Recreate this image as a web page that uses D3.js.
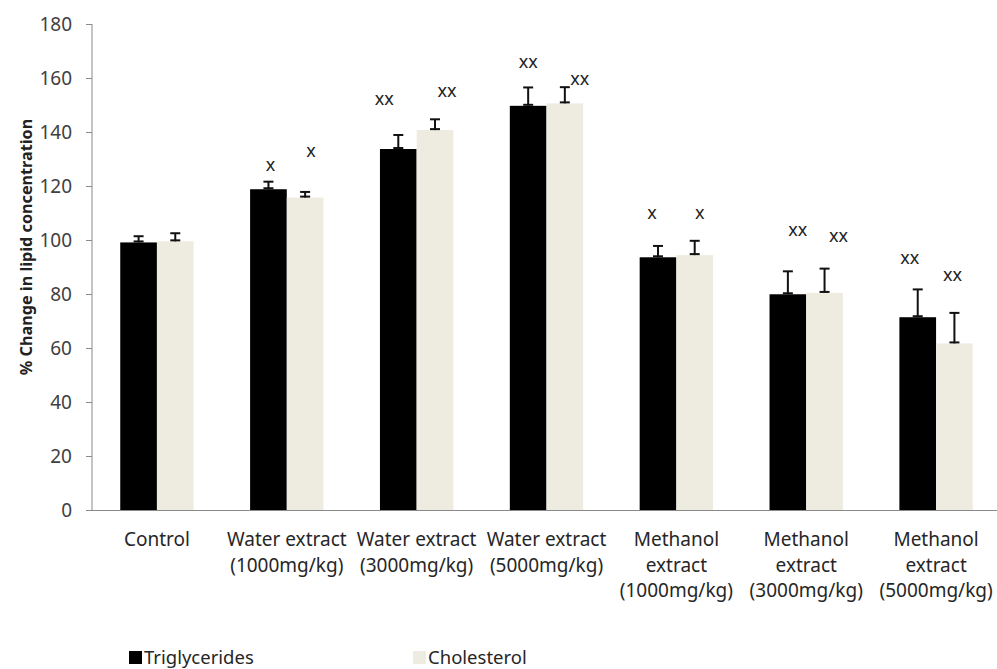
<!DOCTYPE html>
<html>
<head>
<meta charset="utf-8">
<script src="https://cdn.jsdelivr.net/npm/d3@7"></script>
<style>
  body { margin: 0; background: #fff; }
  #chart { width: 997px; height: 669px; }
  text { font-family: "Noto Sans", "Open Sans", sans-serif; }
</style>
</head>
<body>
<div id="chart"></div>
<script>
let categories = [
    "Control",
    "Water extract\n(1000mg/kg)",
    "Water extract\n(3000mg/kg)",
    "Water extract\n(5000mg/kg)",
    "Methanol\nextract\n(1000mg/kg)",
    "Methanol\nextract\n(3000mg/kg)",
    "Methanol\nextract\n(5000mg/kg)"
];
let seriesNames = ["Triglycerides", "Cholesterol"];
let seriesColors = ["#000000", "#eeebe0"];

let triglycerides = [99.1, 118.8, 133.7, 149.7, 93.6, 79.9, 71.4];
let cholesterol   = [99.5, 115.7, 140.7, 150.6, 94.4, 80.4, 61.7];
let trigErr = [2.3, 2.8, 5.2, 6.8, 4.2, 8.5, 10.3];
let cholErr = [3.0, 2.1, 4.0, 6.0, 5.3, 9.0, 11.3];

// significance marks: [category index, series index, text, value level, shift off bar centre in px]
let marks = [
    [1, 0, "x", 127.4, 2],   [1, 1, "x", 132.6, 6],
    [2, 0, "xx", 151.9, -14], [2, 1, "xx", 154.9, 12],
    [3, 0, "xx", 165.4, 0],   [3, 1, "xx", 159.3, 15],
    [4, 0, "x", 109.6, -6],   [4, 1, "x", 109.6, 5],
    [5, 0, "xx", 103.4, 10],  [5, 1, "xx", 101.2, 14],
    [6, 0, "xx", 92.9, -8],   [6, 1, "xx", 86.7, -2]
];
let yTicks = [0, 20, 40, 60, 80, 100, 120, 140, 160, 180];

let drawGraph = function() {
    let w = 997, h = 669;
    let left = 92, right = 1001, top = 24, bottom = 510;

    let svg = d3.select("#chart")
      .append("svg")
        .attr("width", w)
        .attr("height", h);

    let y = d3.scaleLinear().domain([0, 180]).range([bottom, top]);
    let x = d3.scaleBand().domain(d3.range(categories.length)).range([left, right]).padding(0);
    let groupW = x.bandwidth() * 0.565;
    let xs = d3.scaleBand().domain([0, 1]).range([0, groupW]);

    // y axis
    let yAxis = svg.append("g")
        .attr("transform", "translate(" + left + ",0)")
        .call(d3.axisLeft(y).tickValues(yTicks).tickSize(6).tickPadding(14));
    yAxis.select(".domain").attr("stroke", "#8a8a8a").attr("d", "M0," + top + "V" + bottom);
    yAxis.selectAll(".tick line").attr("stroke", "#8a8a8a");
    yAxis.selectAll(".tick text")
        .attr("font-size", 19)
        .attr("font-family", "'Noto Sans', sans-serif")
        .attr("fill", "#404040");

    svg.append("text")
        .attr("transform", "translate(32,247) rotate(-90)")
        .attr("text-anchor", "middle")
        .attr("font-size", 16.2)
        .attr("font-weight", "bold")
        .attr("fill", "#222")
        .text("% Change in lipid concentration");

    let series = [triglycerides, cholesterol];
    let errs = [trigErr, cholErr];

    let data = [];
    categories.forEach(function(c, i) {
        series.forEach(function(s, j) {
            data.push({ cat: i, ser: j, value: s[i], err: errs[j][i] });
        });
    });
    let barX = function(d) {
        return x(d.cat) + (x.bandwidth() - groupW) / 2 + xs(d.ser);
    };

    svg.selectAll("rect.bar")
        .data(data)
      .enter().append("rect")
        .attr("class", "bar")
        .attr("x", barX)
        .attr("y", function(d) { return y(d.value); })
        .attr("width", xs.bandwidth())
        .attr("height", function(d) { return y(0) - y(d.value); })
        .attr("fill", function(d) { return seriesColors[d.ser]; });

    // x axis line on top of bars
    svg.append("line")
        .attr("x1", left).attr("x2", right)
        .attr("y1", bottom + 0.5).attr("y2", bottom + 0.5)
        .attr("stroke", "#8a8a8a");

    // error bars (plus direction, capped both ends)
    let eb = svg.selectAll("g.err")
        .data(data)
      .enter().append("g")
        .attr("class", "err")
        .attr("stroke", "#111")
        .attr("stroke-width", 2);
    let cx = function(d) { return barX(d) + xs.bandwidth() / 2; };
    eb.append("line")
        .attr("x1", cx).attr("x2", cx)
        .attr("y1", function(d) { return y(d.value); })
        .attr("y2", function(d) { return y(d.value + d.err); });
    eb.append("line")
        .attr("x1", function(d) { return cx(d) - 5; })
        .attr("x2", function(d) { return cx(d) + 5; })
        .attr("y1", function(d) { return y(d.value + d.err); })
        .attr("y2", function(d) { return y(d.value + d.err); });
    eb.append("line")
        .attr("x1", function(d) { return cx(d) - 5; })
        .attr("x2", function(d) { return cx(d) + 5; })
        .attr("y1", function(d) { return y(d.value) - 1; })
        .attr("y2", function(d) { return y(d.value) - 1; });

    // significance marks
    svg.selectAll("text.mark")
        .data(marks)
      .enter().append("text")
        .attr("class", "mark")
        .attr("x", function(m) { return cx({ cat: m[0], ser: m[1] }) + m[4]; })
        .attr("y", function(m) { return y(m[3]) + 5; })
        .attr("text-anchor", "middle")
        .attr("font-size", 18)
        .attr("fill", "#222")
        .text(function(m) { return m[2]; });

    // category labels
    let lab = svg.selectAll("text.cat")
        .data(categories)
      .enter().append("text")
        .attr("class", "cat")
        .attr("text-anchor", "middle")
        .attr("font-size", 19)
        .attr("fill", "#262626")
        .attr("transform", function(d, i) { return "translate(" + (x(i) + x.bandwidth() / 2) + ",546)"; });
    lab.selectAll("tspan")
        .data(function(d) { return d.split("\n"); })
      .enter().append("tspan")
        .attr("x", 0)
        .attr("dy", function(d, i) { return i === 0 ? 0 : 25.5; })
        .text(function(d) { return d; });

    // legend
    let legX = [129, 413];
    let leg = svg.selectAll("g.leg")
        .data(seriesNames)
      .enter().append("g")
        .attr("class", "leg")
        .attr("transform", function(d, i) { return "translate(" + legX[i] + ",651)"; });
    leg.append("rect")
        .attr("width", 13).attr("height", 13)
        .attr("fill", function(d, i) { return seriesColors[i]; });
    leg.append("text")
        .attr("x", 15).attr("y", 13)
        .attr("font-size", 18.5)
        .attr("fill", "#262626")
        .text(function(d) { return d; });
};

drawGraph();
</script>
</body>
</html>
